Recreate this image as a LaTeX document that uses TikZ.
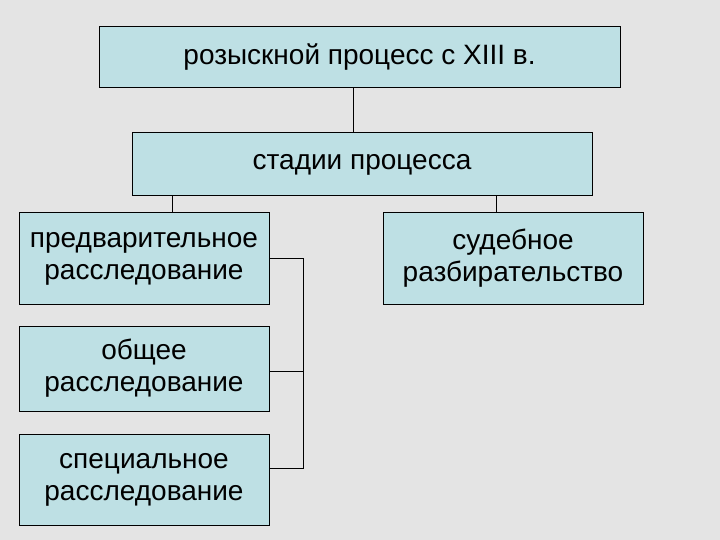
\documentclass[tikz,border=0pt]{standalone}
\usepackage{fontspec}
\setmainfont{Liberation Sans}
\usepackage{tikz}
\usetikzlibrary{calc,positioning}
\definecolor{boxfill}{RGB}{190,224,228}
\definecolor{slidebg}{RGB}{228,228,228}
\tikzset{
    % box style
    stagebox/.style={
        draw=black,
        line width=1pt,
        fill=boxfill,
        inner sep=0pt,
        align=center,
        font=\fontsize{28}{32}\selectfont
    },
    % connector style
    joinline/.style={
        line width=0.6pt,
        black
    }
}

\begin{document}
\begin{tikzpicture}[x=1pt,y=-1pt]
    % background
    \fill[slidebg] (0,0) rectangle (720,540);
    \useasboundingbox (0,0) rectangle (720,540);

    % ===================== upper boxes =====================
    \node[stagebox,minimum width=521pt,minimum height=61pt] (proc) at (359.5,57.5) {розыскной процесс с XIII в.};
    \node[stagebox,minimum width=460pt,minimum height=63pt] (stad) at (362,164.5) {стадии процесса};

    % ===================== lower boxes =====================
    \node[stagebox,minimum width=250pt,minimum height=91pt] (pred) at (144,258.5) {предварительное\\расследование};
    \node[stagebox,minimum width=250pt,minimum height=85pt] (obsh) at (144,368.5) {общее\\расследование};
    \node[stagebox,minimum width=250pt,minimum height=91pt] (spec) at (144,479.5) {специальное\\расследование};
    \node[stagebox,minimum width=260pt,minimum height=91pt] (sud) at (513,258.5) {судебное\\разбирательство};

    \path
    (353,0) coordinate (c1)
    (172,0) coordinate (c2)
    (496,0) coordinate (c3)
    (303,0) coordinate (c4)
    ;

    % connectors
    \draw[joinline] (proc.south -| c1) -- (stad.north -| c1);
    \draw[joinline] (stad.south -| c2) -- (pred.north -| c2);
    \draw[joinline] (stad.south -| c3) -- (sud.north -| c3);

    % bracket
    \draw[joinline] (pred.east) -- (pred.east -| c4) -- ([yshift=11.5pt]spec.east -| c4) -- ([yshift=11.5pt]spec.east);
    \draw[joinline] ([yshift=-2.5pt]obsh.east) -- ([yshift=-2.5pt]obsh.east -| c4);
\end{tikzpicture}
\end{document}
